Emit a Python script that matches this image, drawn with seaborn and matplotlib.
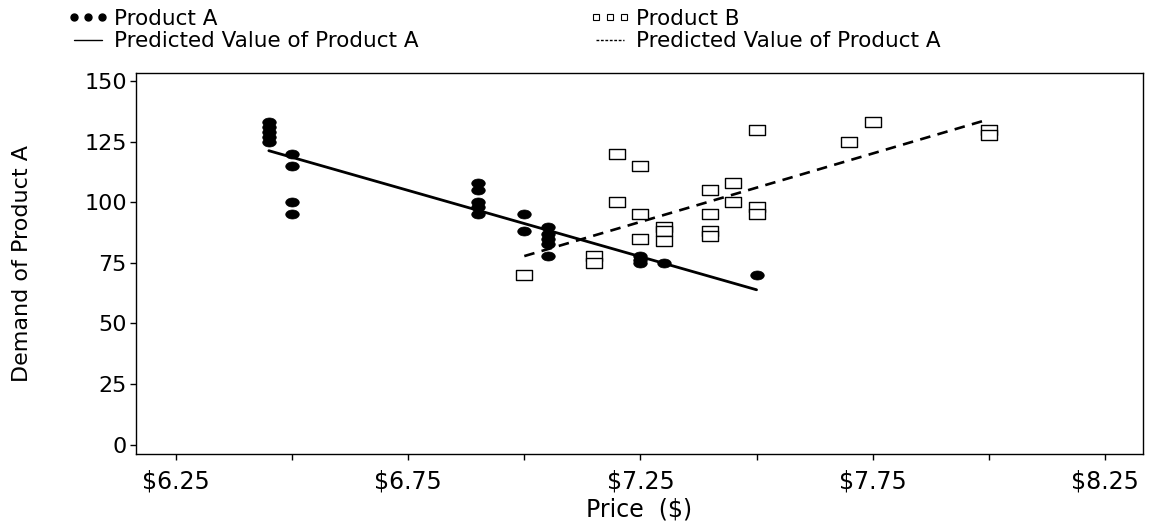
import numpy as np
import pandas as pd
import matplotlib
matplotlib.use("Agg")
import matplotlib.pyplot as plt
from matplotlib.path import Path
from matplotlib.lines import Line2D
import seaborn as sns

# ---- data ----
price_a = [6.45, 6.45, 6.45, 6.45, 6.45,
           6.50, 6.50, 6.50, 6.50,
           6.90, 6.90, 6.90, 6.90, 6.90,
           7.00, 7.00,
           7.05, 7.05, 7.05, 7.05, 7.05,
           7.25, 7.25, 7.25,
           7.30,
           7.50]
demand_a = [125, 127, 129, 131, 133,
            120, 115, 100, 95,
            108, 105, 100, 98, 95,
            95, 88,
            90, 87, 85, 83, 78,
            78, 76, 75,
            75,
            70]

price_b = [7.00,
           7.15, 7.15,
           7.20, 7.20,
           7.25, 7.25, 7.25,
           7.30, 7.30, 7.30,
           7.40, 7.40, 7.40, 7.40,
           7.45, 7.45,
           7.50, 7.50, 7.50,
           7.70,
           7.75,
           8.00, 8.00]
demand_b = [70,
            78, 75,
            120, 100,
            115, 95, 85,
            90, 88, 84,
            105, 95, 88, 86,
            108, 100,
            130, 98, 95,
            125,
            133,
            130, 128]

x_tick_values = [6.25, 6.75, 7.25, 7.75, 8.25]
x_tick_labels = ["$6.25", "$6.75", "$7.25", "$7.75", "$8.25"]
x_minor_values = [6.5, 7.0, 7.5, 8.0]
y_tick_values = [0, 25, 50, 75, 100, 125, 150]

legend_col1 = ["Product A", "Predicted Value of Product A"]
legend_col2 = ["Product B", "Predicted Value of Product A"]

df_a = pd.DataFrame({"price": price_a, "demand": demand_a})
df_b = pd.DataFrame({"price": price_b, "demand": demand_b})

# ---- style ----
sns.set_style("ticks")
plt.rcParams["font.family"] = ["DejaVu Sans"]
plt.rcParams["text.color"] = "black"
plt.rcParams["axes.labelcolor"] = "black"

W, H = 1149, 525
fig = plt.figure(figsize=(W / 100, H / 100), dpi=100)
ax_l, ax_r, ax_t, ax_b = 136, 1143, 73, 454
ax = fig.add_axes([ax_l / W, 1 - ax_b / H, (ax_r - ax_l) / W, (ax_b - ax_t) / H])

# elongated markers (wider than tall), as in the reference
t = np.linspace(0, 2 * np.pi, 40)
ellipse = Path(np.column_stack([0.75 * np.cos(t), 0.5 * np.sin(t)]), closed=True)
rect = Path([(-0.75, -0.5), (0.75, -0.5), (0.75, 0.5), (-0.75, 0.5), (-0.75, -0.5)],
            closed=True)

sns.scatterplot(data=df_a, x="price", y="demand", ax=ax, marker=ellipse,
                s=95, color="black", edgecolor="black", linewidth=0.5, zorder=3)
sns.scatterplot(data=df_b, x="price", y="demand", ax=ax, marker=rect,
                s=125, facecolor="white", edgecolor="black", linewidth=1.0, zorder=3)

sns.regplot(data=df_a, x="price", y="demand", ax=ax, scatter=False, ci=None,
            color="black", line_kws={"lw": 2.0, "zorder": 2})
sns.regplot(data=df_b, x="price", y="demand", ax=ax, scatter=False, ci=None,
            color="black", line_kws={"lw": 1.9, "ls": (0, (4, 2.8)), "zorder": 2})

ax.set_xlim(6.164, 8.332)
ax.set_ylim(-3.9, 153.4)
ax.set_xticks(x_tick_values)
ax.set_xticklabels(x_tick_labels)
ax.set_xticks(x_minor_values, minor=True)
ax.set_yticks(y_tick_values)
ax.tick_params(axis="both", which="both", direction="out", length=4.5, width=1,
               color="black", labelcolor="black")
ax.tick_params(axis="x", which="both", pad=7, labelsize=17)
ax.tick_params(axis="y", pad=2, labelsize=16)
for sp in ax.spines.values():
    sp.set_visible(True)
    sp.set_color("black")
    sp.set_linewidth(1.0)

ax.set_xlabel("Price  ($)", fontsize=17)
ax.xaxis.set_label_coords(0.5, -0.115)
ax.set_ylabel("Demand of Product A", fontsize=16)
ax.yaxis.set_label_coords(-0.103, 0.5)

handles1 = [
    Line2D([], [], ls="none", marker="o", ms=5, color="black"),
    Line2D([], [], ls="-", lw=1.0, color="black"),
]
handles2 = [
    Line2D([], [], ls="none", marker="s", ms=5, mfc="white", mec="black", mew=0.8),
    Line2D([], [], ls=(0, (2, 1.2)), lw=1.0, color="black"),
]
common = dict(loc="upper left", frameon=False, fontsize=15.5, numpoints=3,
              handlelength=1.9, handletextpad=0.25, labelspacing=0.1,
              borderaxespad=0.0, borderpad=0.0)
leg1 = fig.legend(handles1, legend_col1, bbox_to_anchor=(68 / W, 1 - 9 / H), **common)
leg2 = fig.legend(handles2, legend_col2, bbox_to_anchor=(590 / W, 1 - 9 / H), **common)

fig.savefig("out.png", dpi=100)
